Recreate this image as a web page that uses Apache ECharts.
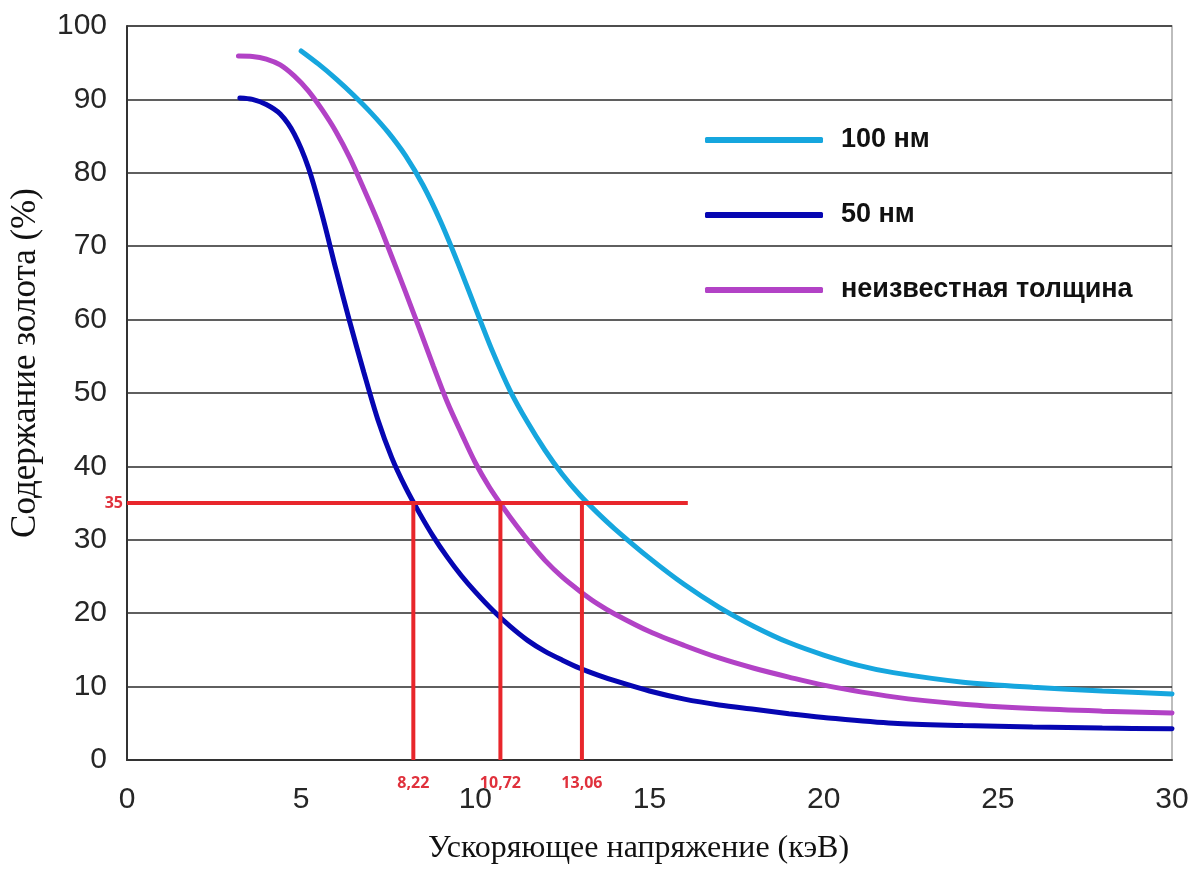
<!DOCTYPE html>
<html>
<head>
<meta charset="utf-8">
<title>Содержание золота</title>
<script src="https://cdn.jsdelivr.net/npm/echarts@6/dist/echarts.min.js"></script>
<style>
  html, body { margin: 0; padding: 0; background: #fff; }
  #chart { width: 1194px; height: 872px; }
</style>
</head>
<body>
<div id="chart"></div>
<script>
// Gold content (%) versus accelerating voltage (keV) for three film thicknesses
const seriesNames = ['100 нм', '50 нм', 'неизвестная толщина'];

const film100 = [
  [5.0, 96.6], [5.5, 94.8], [6.0, 92.8], [6.5, 90.6], [7.0, 88.2], [7.5, 85.5],
  [8.0, 82.3], [8.5, 78.3], [9.0, 73.4], [9.5, 67.7], [10.0, 61.6], [10.5, 55.6],
  [11.0, 50.3], [11.5, 46.0], [12.0, 42.2], [12.5, 38.9], [13.0, 36.1], [13.5, 33.7],
  [14.0, 31.5], [15.0, 27.5], [16.0, 23.9], [17.0, 20.8], [18.0, 18.2], [19.0, 16.0],
  [20.0, 14.3], [21.0, 12.9], [22.0, 11.9], [24.0, 10.6], [26.0, 9.9], [28.0, 9.4],
  [30.0, 9.0]
];

const film50 = [
  [3.24, 90.2], [3.6, 90.0], [4.0, 89.3], [4.4, 88.0], [4.8, 85.3], [5.2, 80.8],
  [5.6, 74.3], [6.0, 66.8], [6.4, 59.6], [6.8, 52.8], [7.2, 46.4], [7.6, 41.2],
  [8.0, 37.1], [8.4, 33.6], [8.8, 30.4], [9.2, 27.6], [9.6, 25.1], [10.0, 22.9],
  [10.5, 20.4], [11.0, 18.2], [11.5, 16.3], [12.0, 14.8], [12.5, 13.6], [13.0, 12.5],
  [13.5, 11.6], [14.0, 10.8], [15.0, 9.4], [16.0, 8.3], [17.0, 7.5], [18.0, 6.9],
  [19.0, 6.3], [20.0, 5.8], [22.0, 5.0], [24.0, 4.7], [26.0, 4.5], [28.0, 4.35],
  [30.0, 4.25]
];

const filmUnknown = [
  [3.2, 95.9], [3.6, 95.85], [4.0, 95.5], [4.4, 94.7], [4.8, 93.2], [5.2, 91.2],
  [5.6, 88.6], [6.0, 85.6], [6.4, 82.0], [6.8, 77.8], [7.2, 73.4], [7.6, 68.6],
  [8.0, 63.7], [8.4, 58.7], [8.8, 53.6], [9.2, 48.7], [9.6, 44.5], [10.0, 40.5],
  [10.4, 37.2], [10.8, 34.4], [11.2, 31.8], [11.6, 29.4], [12.0, 27.2], [12.5, 24.9],
  [13.0, 23.0], [13.5, 21.3], [14.0, 19.9], [15.0, 17.5], [16.0, 15.6], [17.0, 13.9],
  [18.0, 12.5], [19.0, 11.3], [20.0, 10.2], [22.0, 8.6], [24.0, 7.6], [26.0, 7.0],
  [28.0, 6.65], [30.0, 6.4]
];

// Reading lines: 35 % level and the voltages where each curve meets it
const readLevel = 35;
const readLevelEnd = 16.1;
const readVoltages = [8.22, 10.72, 13.06];

const xTicks = { min: 0, max: 30, interval: 5 };
const yTicks = { min: 0, max: 100, interval: 10 };

const colors = ['#16a6de', '#0606b2', '#b242c6'];
const red = '#e8262b';
const redText = '#e0313c';
const sans = 'Liberation Sans, Arial, sans-serif';
const serif = 'Liberation Serif, Times New Roman, serif';

const curveSeries = [film100, film50, filmUnknown].map((data, i) => ({
  name: seriesNames[i],
  type: 'line',
  data: data,
  smooth: 0.3,
  showSymbol: false,
  symbol: 'none',
  z: 3,
  lineStyle: { color: colors[i], width: 5, cap: 'round' },
  itemStyle: { color: colors[i] }
}));

const fmtComma = v => v.toFixed(2).replace('.', ',');

const redLabel = { color: redText, fontFamily: 'Open Sans', fontWeight: 'bold', fontSize: 16 };
const hiddenDot = { color: 'rgba(0,0,0,0)' };

const levelSeries = {
  type: 'line',
  data: [
    { value: [0, readLevel], label: { show: true, position: 'left', distance: 3, formatter: String(readLevel) } },
    { value: [readLevelEnd, readLevel] }
  ],
  showSymbol: true,
  symbol: 'circle',
  symbolSize: 2,
  itemStyle: hiddenDot,
  z: 4,
  lineStyle: { color: red, width: 4 },
  label: redLabel,
  labelLayout: { hideOverlap: false }
};

const voltageSeries = readVoltages.map(v => ({
  type: 'line',
  data: [
    { value: [v, 0], label: { show: true, position: 'bottom', distance: 14, formatter: fmtComma(v) } },
    { value: [v, readLevel] }
  ],
  showSymbol: true,
  symbol: 'circle',
  symbolSize: 2,
  itemStyle: hiddenDot,
  z: 4,
  lineStyle: { color: red, width: 4 },
  label: redLabel,
  labelLayout: { hideOverlap: false }
}));

const chart = echarts.init(document.getElementById('chart'), null, { renderer: 'canvas' });

chart.setOption({
  animation: false,
  backgroundColor: '#ffffff',
  grid: {
    left: 127, right: 22, top: 26, bottom: 112,
    show: true, borderColor: '#a8a8a8', borderWidth: 1.5, backgroundColor: 'transparent'
  },
  legend: {
    data: seriesNames,
    orient: 'vertical',
    left: 700,
    top: 120,
    icon: 'roundRect',
    itemWidth: 118,
    itemHeight: 6,
    itemGap: 45,
    selectedMode: false,
    textStyle: {
      fontFamily: sans,
      fontWeight: 'bold',
      fontSize: 27,
      color: '#111',
      lineHeight: 30,
      padding: [0, 0, 0, 13]
    }
  },
  xAxis: {
    type: 'value',
    min: xTicks.min, max: xTicks.max, interval: xTicks.interval,
    name: 'Ускоряющее напряжение (кэВ)',
    nameLocation: 'middle',
    nameGap: 73,
    nameTextStyle: { fontFamily: serif, fontSize: 32, color: '#111', padding: [0, 22, 0, 0] },
    axisLine: { show: true, onZero: false, lineStyle: { color: '#333', width: 2 } },
    axisTick: { show: false },
    splitLine: { show: false },
    axisLabel: { margin: 25, fontFamily: sans, fontSize: 30, color: '#262626' }
  },
  yAxis: {
    type: 'value',
    min: yTicks.min, max: yTicks.max, interval: yTicks.interval,
    name: 'Содержание золота (%)',
    nameLocation: 'middle',
    nameGap: 84,
    nameTextStyle: { fontFamily: serif, fontSize: 35, color: '#111', padding: [0, 0, 0, 60] },
    axisLine: { show: true, lineStyle: { color: '#333', width: 2 } },
    axisTick: { show: false },
    splitLine: { show: true, lineStyle: { color: '#2a2a2a', width: 1.5 } },
    axisLabel: { margin: 20, fontFamily: sans, fontSize: 30, color: '#262626' }
  },
  series: [...curveSeries, levelSeries, ...voltageSeries]
});
</script>
</body>
</html>
